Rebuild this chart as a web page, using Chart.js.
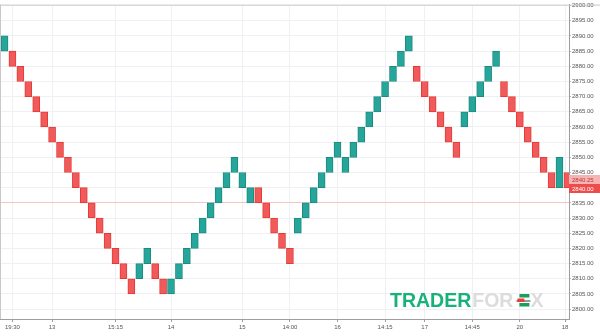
<!DOCTYPE html>
<html><head><meta charset="utf-8">
<script src="https://cdn.jsdelivr.net/npm/chart.js@4.4.1/dist/chart.umd.min.js"></script>
<style>html,body{margin:0;padding:0;background:#fff;overflow:hidden}canvas{display:block}</style>
</head><body>
<canvas id="c" width="600" height="336"></canvas>
<script>
// Renko bricks (5-point boxes)
const brickOpen = [
  2885, 2885, 2880, 2875, 2870, 2865, 2860, 2855, 2850, 2845, 2840, 2835, 2830, 2825, 2820, 2815, 2810,
  2810, 2815, 2815, 2810, 2805, 2810, 2815, 2820, 2825, 2830, 2835, 2840, 2845, 2840, 2835, 2840, 2835,
  2830, 2825, 2820, 2825, 2830, 2835, 2840, 2845, 2850, 2845, 2850, 2855, 2860, 2865, 2870, 2875, 2880,
  2885, 2880, 2875, 2870, 2865, 2860, 2855, 2860, 2865, 2870, 2875, 2880, 2875, 2870, 2865, 2860, 2855,
  2850, 2845, 2840, 2845
];
const brickClose = [
  2890, 2880, 2875, 2870, 2865, 2860, 2855, 2850, 2845, 2840, 2835, 2830, 2825, 2820, 2815, 2810, 2805,
  2815, 2820, 2810, 2805, 2810, 2815, 2820, 2825, 2830, 2835, 2840, 2845, 2850, 2845, 2840, 2835, 2830,
  2825, 2820, 2815, 2830, 2835, 2840, 2845, 2850, 2855, 2850, 2855, 2860, 2865, 2870, 2875, 2880, 2885,
  2890, 2875, 2870, 2865, 2860, 2855, 2850, 2865, 2870, 2875, 2880, 2885, 2870, 2865, 2860, 2855, 2850,
  2845, 2840, 2850, 2840
];
const xTickPositions = [1, 6, 14, 21, 30, 36, 42, 48, 53, 59, 65, 70.7];
const xTickLabels = ['19:30', '13', '15:15', '14', '15', '14:00', '16', '14:15', '17', '14:45', '20', '18'];
const yTickValues = [2800, 2805, 2810, 2815, 2820, 2825, 2830, 2835, 2840, 2845, 2850, 2855, 2860, 2865,
  2870, 2875, 2880, 2885, 2890, 2895, 2900];
const highlightLevel = 2835;
const priceTags = [
  { value: 2840.25, text: '2840.25', kind: 'prev' },
  { value: 2840.00, text: '2840.00', kind: 'last' }
];
</script>
<script>
const UP = '#26a69a', UP_B = '#1c8a7f', DN = '#f15a5a', DN_B = '#e53935';
const bricks = brickOpen.map((o, i) => ({ x: i, y: [o, brickClose[i]] }));

const framePlugin = {
  id: 'frame',
  beforeDatasetsDraw(chart) {
    const { ctx } = chart;
    ctx.save();
    const base = 307;
    let x = 390;
    ctx.textBaseline = 'alphabetic';
    ctx.textAlign = 'left';
    ctx.font = 'bold 19.5px "Liberation Sans", Arial, sans-serif';
    ctx.fillStyle = '#18b17a';
    ctx.fillText('TRADER', x, base);
    x += ctx.measureText('TRADER').width + 1;
    ctx.fillStyle = '#dcdcdc';
    ctx.fillText('FOR', x, base);
    x += ctx.measureText('FOR').width + 2;
    ctx.fillStyle = '#333';
    ctx.fillRect(x + 1, base - 6.5, 14, 1);
    ctx.fillStyle = '#16a05a';
    ctx.fillRect(x + 4, base - 13, 10, 3.5);
    ctx.fillRect(x + 4, base - 4, 10, 3.5);
    ctx.fillStyle = '#ee3b3b';
    ctx.fillRect(x + 2, base - 8.5, 7, 3.5);
    x += 15;
    ctx.fillStyle = '#dcdcdc';
    ctx.fillText('X', x, base);
    ctx.restore();
  },
  afterDraw(chart) {
    const { ctx, chartArea: a, scales } = chart;
    ctx.save();
    ctx.strokeStyle = '#c8c8c8';
    ctx.lineWidth = 1;
    ctx.beginPath();
    ctx.moveTo(0, a.top + 0.5); ctx.lineTo(chart.width, a.top + 0.5);
    ctx.moveTo(0.5, a.top); ctx.lineTo(0.5, a.bottom);
    ctx.stroke();
    const y = scales.y;
    const last = priceTags.find(t => t.kind === 'last');
    const prev = priceTags.find(t => t.kind === 'prev');
    const yl = Math.round(y.getPixelForValue(last.value));
    const h = 9;
    const lx = a.right;
    ctx.font = '6px "Liberation Sans", Arial, sans-serif';
    ctx.textBaseline = 'middle';
    ctx.textAlign = 'left';
    ctx.fillStyle = '#f6b3b3';
    ctx.fillRect(lx, yl - 4 - h, chart.width - lx, h);
    ctx.fillStyle = '#b23a3a';
    ctx.fillText(prev.text, lx + 3, yl - 4 - h / 2 + 0.5);
    ctx.fillStyle = '#ef4b4b';
    ctx.fillRect(lx, yl - 4, chart.width - lx, h);
    ctx.fillStyle = '#ffffff';
    ctx.fillText(last.text, lx + 3, yl - 4 + h / 2 + 0.5);
    ctx.restore();
  }
};

new Chart(document.getElementById('c'), {
  type: 'bar',
  data: {
    datasets: [{
      data: bricks,
      backgroundColor: bricks.map(b => b.y[1] > b.y[0] ? UP : DN),
      borderColor: bricks.map(b => b.y[1] > b.y[0] ? UP_B : DN_B),
      borderWidth: 1,
      borderSkipped: false,
      barThickness: 7
    }]
  },
  options: {
    responsive: false,
    animation: false,
    events: [],
    layout: { padding: { top: 2, left: 0, right: 0, bottom: 0 } },
    plugins: { legend: { display: false }, tooltip: { enabled: false } },
    scales: {
      x: {
        type: 'linear',
        offset: false,
        min: -0.57,
        max: 71.2,
        afterBuildTicks(scale) { scale.ticks = xTickPositions.map(v => ({ value: v })); },
        afterFit(scale) { scale.height = 17; },
        grid: { offset: false, color: '#eef0f3', tickColor: '#9e9e9e', tickLength: 3, drawOnChartArea: true },
        border: { color: '#9e9e9e' },
        ticks: {
          autoSkip: false, maxRotation: 0, padding: 2,
          font: { size: 6, family: '"Liberation Sans", Arial, sans-serif' },
          color: '#555',
          callback(v, i) { return xTickLabels[i]; }
        }
      },
      y: {
        position: 'right',
        min: 2796.73,
        max: 2900.33,
        afterBuildTicks(scale) { scale.ticks = yTickValues.map(v => ({ value: v })); },
        afterFit(scale) { scale.width = 31; },
        grid: {
          color: ctx => (ctx.tick && ctx.tick.value === highlightLevel) ? '#f7c4c4' : '#eef0f3',
          tickColor: '#bbbbbb', tickLength: 2
        },
        border: { color: '#9e9e9e' },
        ticks: {
          padding: 1,
          font: { size: 6, family: '"Liberation Sans", Arial, sans-serif' },
          color: '#555',
          callback(v) { return Number(v).toFixed(2); }
        }
      }
    }
  },
  plugins: [framePlugin]
});
</script>
</body></html>
